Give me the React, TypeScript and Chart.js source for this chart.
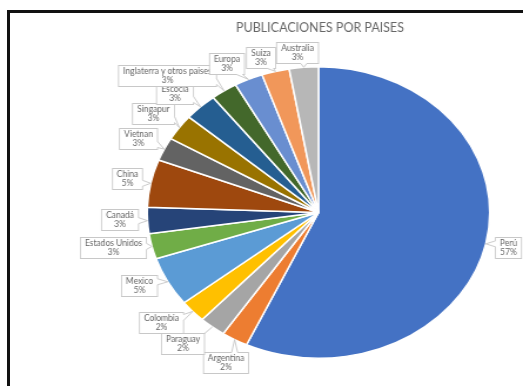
import React, { useEffect, useRef } from "react";
import { Chart, registerables } from "chart.js";

Chart.register(...registerables);

const titleText = "PUBLICACIONES POR PAISES";
const categories = [
  "Perú",
  "Argentina",
  "Paraguay",
  "Colombia",
  "Mexico",
  "Estados Unidos",
  "Canadá",
  "China",
  "Vietnan",
  "Singapur",
  "Escocia",
  "Inglaterra y otros paises",
  "Europa",
  "Suiza",
  "Australia",
];
const values = [56.9, 2.49, 2.49, 2.49, 5.49, 2.8, 2.9, 5.3, 2.6, 2.9, 3.1, 2.5, 2.7, 2.6, 2.74];
const colors = [
  "#4472C4",
  "#ED7D31",
  "#A5A5A5",
  "#FFC000",
  "#5B9BD5",
  "#70AD47",
  "#264478",
  "#9E480E",
  "#636363",
  "#997300",
  "#255E91",
  "#43682B",
  "#698ED0",
  "#F1975A",
  "#B7B7B7",
];
// label box centre offsets from each slice's outer mid point (screen px)
const labelOffsets: [number, number][] = [
  [22, 4],
  [-9, 23],
  [-30, 17],
  [-32, 11],
  [-29, 4],
  [-39, 1],
  [-28, -1],
  [-23.5, -5],
  [-26.5, -10.7],
  [-26.6, -14],
  [-26, -13],
  [-57, -15],
  [-22, -16],
  [-15, -14],
  [-7, -14.5],
];

const VIEW_W = 523;
const VIEW_H = 386;
const CANVAS_W = 445;
const SX = VIEW_W / CANVAS_W;

const clamp = (v: number, a: number, b: number) => Math.max(a, Math.min(b, v));

function drawCallout(ctx: CanvasRenderingContext2D, l: number, t: number, r: number, b: number, ax: number, ay: number) {
  ctx.fillStyle = "#ffffff";
  ctx.strokeStyle = "#c8c8c8";
  ctx.lineWidth = 1;
  ctx.fillRect(l, t, r - l, b - t);
  ctx.strokeRect(l, t, r - l, b - t);
  const inX = ax >= l && ax <= r;
  const inY = ay >= t && ay <= b;
  if (inX && inY) return;
  const cornerX = ax < l ? l : r;
  const cornerY = ay < t ? t : b;
  let useHorizontalEdge: boolean | null = null;
  if (inX) useHorizontalEdge = true;
  else if (inY) useHorizontalEdge = false;
  else {
    const dist = Math.hypot(ax - cornerX, ay - cornerY);
    if (dist <= 10) useHorizontalEdge = Math.abs(ay - cornerY) >= Math.abs(ax - cornerX);
  }
  if (useHorizontalEdge === null) {
    ctx.beginPath();
    ctx.moveTo(cornerX, cornerY);
    ctx.lineTo(ax, ay);
    ctx.strokeStyle = "#bfbfbf";
    ctx.stroke();
    return;
  }
  let p1: [number, number], p2: [number, number], inset: [number, number];
  if (useHorizontalEdge) {
    const px = clamp(ax, l + 5, r - 5);
    const ey = ay < t ? t : b;
    const d = ay < t ? 1.5 : -1.5;
    p1 = [px - 3, ey];
    p2 = [px + 3, ey];
    inset = [0, d];
  } else {
    const py = clamp(ay, t + 5, b - 5);
    const ex = ax < l ? l : r;
    const d = ax < l ? 1.5 : -1.5;
    p1 = [ex, py - 3];
    p2 = [ex, py + 3];
    inset = [d, 0];
  }
  ctx.beginPath();
  ctx.moveTo(p1[0] + inset[0], p1[1] + inset[1]);
  ctx.lineTo(p1[0], p1[1]);
  ctx.lineTo(ax, ay);
  ctx.lineTo(p2[0], p2[1]);
  ctx.lineTo(p2[0] + inset[0], p2[1] + inset[1]);
  ctx.closePath();
  ctx.fillStyle = "#ffffff";
  ctx.fill();
  ctx.beginPath();
  ctx.moveTo(p1[0], p1[1]);
  ctx.lineTo(ax, ay);
  ctx.lineTo(p2[0], p2[1]);
  ctx.strokeStyle = "#c8c8c8";
  ctx.stroke();
}

const calloutPlugin = {
  id: "calloutLabels",
  afterDraw(chart: any) {
    const ctx: CanvasRenderingContext2D = chart.ctx;
    const meta = chart.getDatasetMeta(0);
    const data = chart.data.datasets[0].data as number[];
    const total = data.reduce((a, b) => a + b, 0);
    ctx.save();
    ctx.setTransform(1, 0, 0, 1, 0, 0);
    ctx.scale(1 / SX, 1);
    ctx.fillStyle = "#666666";
    ctx.textAlign = "center";
    ctx.textBaseline = "middle";
    ctx.font = "12.5px Lato";
    ctx.fillText(titleText, 320, 27.5);
    ctx.font = "8.5px Lato";
    meta.data.forEach((arc: any, i: number) => {
      const p = arc.getProps(["x", "y", "startAngle", "endAngle", "outerRadius"], true);
      const mid = (p.startAngle + p.endAngle) / 2;
      const ax = (p.x + p.outerRadius * Math.cos(mid)) * SX;
      const ay = p.y + p.outerRadius * Math.sin(mid);
      const name = categories[i];
      const pct = Math.round((data[i] / total) * 100) + "%";
      const w = Math.max(ctx.measureText(name).width, ctx.measureText(pct).width) + 9;
      const h = 21;
      const cx = ax + labelOffsets[i][0];
      const cy = ay + labelOffsets[i][1];
      const l = Math.round(cx - w / 2) + 0.5;
      const t = Math.round(cy - h / 2) + 0.5;
      const r = Math.round(cx + w / 2) + 0.5;
      const b = t + h;
      drawCallout(ctx, l, t, r, b, ax, ay);
      ctx.fillStyle = "#666666";
      ctx.fillText(name, (l + r) / 2, (t + b) / 2 - 4.5);
      ctx.fillText(pct, (l + r) / 2, (t + b) / 2 + 4.5);
    });
    ctx.restore();
  },
};

export default function App() {
  const canvasRef = useRef<HTMLCanvasElement | null>(null);
  useEffect(() => {
    if (!canvasRef.current) return;
    const chart = new Chart(canvasRef.current, {
      type: "pie",
      data: {
        labels: categories,
        datasets: [
          {
            data: values,
            backgroundColor: colors,
            borderColor: "#ffffff",
            borderWidth: 1.5,
          },
        ],
      },
      options: {
        responsive: false,
        animation: false,
        devicePixelRatio: 1,
        layout: { padding: { top: 66, bottom: 27, left: 121, right: 24 } },
        plugins: {
          legend: { display: false },
          tooltip: { enabled: false },
          title: { display: false },
        },
      },
      plugins: [calloutPlugin],
    });
    return () => chart.destroy();
  }, []);
  return (
    <div>
      <div
        style={{
          position: "fixed",
          left: 0,
          top: 0,
          width: VIEW_W,
          height: VIEW_H,
          overflow: "hidden",
          background: "#ffffff",
        }}
      >
        <div
          style={{
            position: "absolute",
            left: 7,
            top: 10,
            width: 700,
            height: 600,
            borderLeft: "3px solid #111",
            borderTop: "3px solid #111",
          }}
        />
        <canvas
          ref={canvasRef}
          width={CANVAS_W}
          height={VIEW_H}
          style={{ position: "absolute", left: 0, top: 0, width: VIEW_W + "px", height: VIEW_H + "px", display: "block" }}
        />
      </div>
    </div>
  );
}
